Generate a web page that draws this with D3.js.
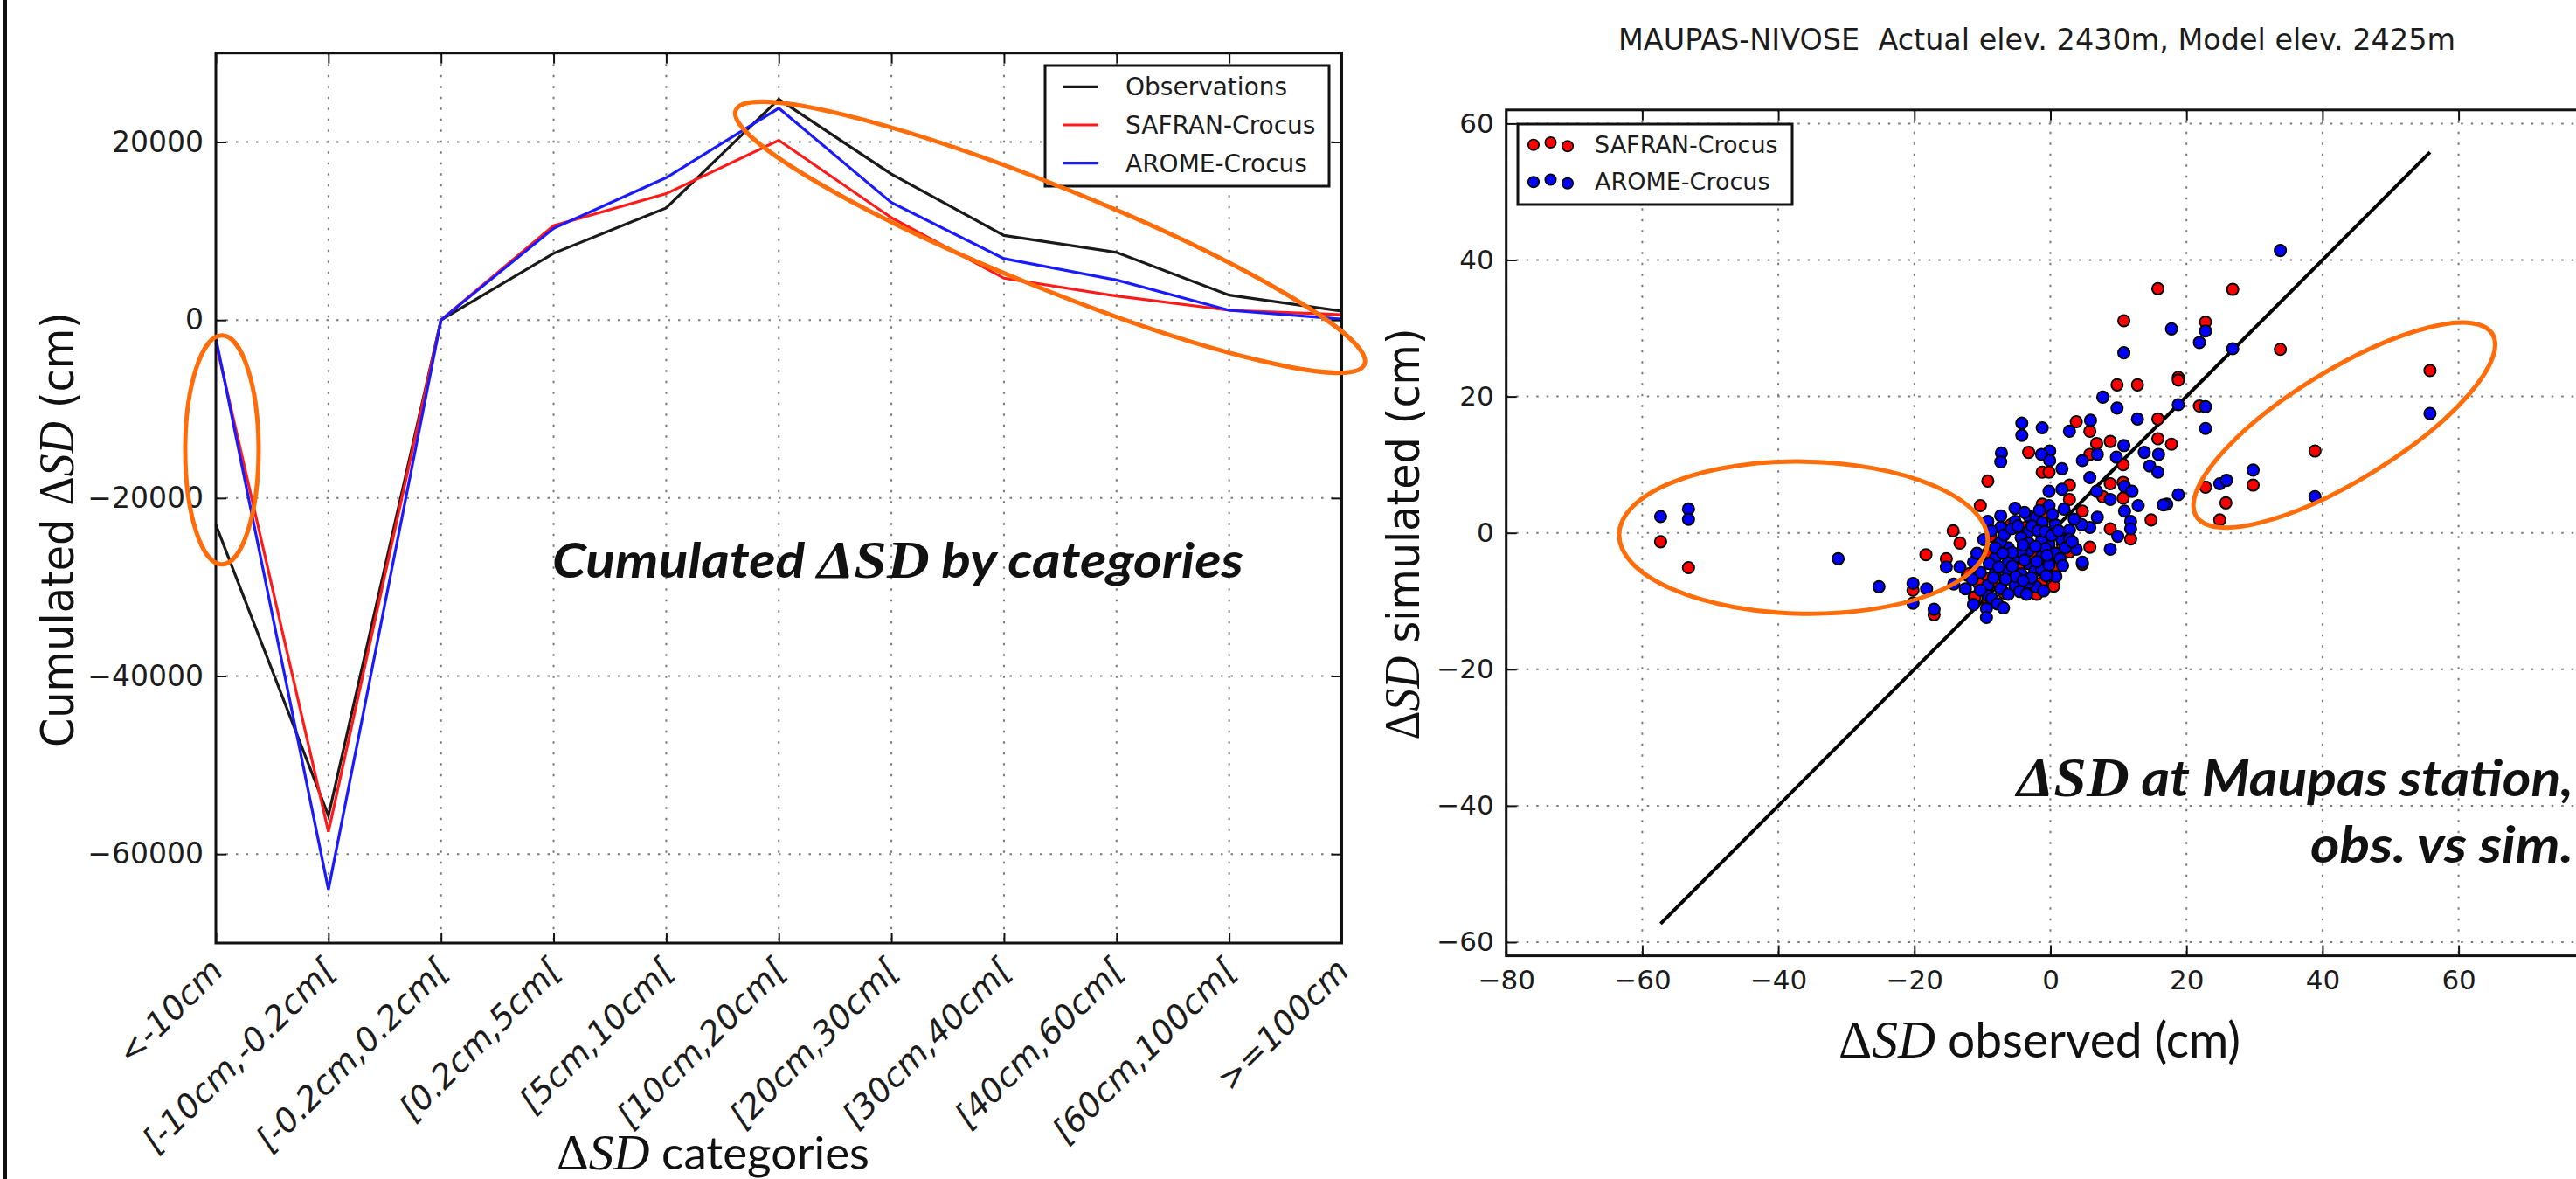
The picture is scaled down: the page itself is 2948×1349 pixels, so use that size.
<!DOCTYPE html>
<html>
<head>
<meta charset="utf-8">
<script src="https://cdnjs.cloudflare.com/ajax/libs/d3/7.8.5/d3.min.js"></script>
<style>
  html, body { margin: 0; padding: 0; background: #fff; overflow: hidden; }
  svg { display: block; }
</style>
</head>
<body>
<svg id="chart" width="2948" height="1349"></svg>
<script>
// ---- data: cumulated delta SD by category ----
const categories = ['<-10cm', '[-10cm,-0.2cm[', '[-0.2cm,0.2cm[', '[0.2cm,5cm[', '[5cm,10cm[',
  '[10cm,20cm[', '[20cm,30cm[', '[30cm,40cm[', '[40cm,60cm[', '[60cm,100cm[', '>=100cm'];
const observations = [-23000, -55700, 0, 7500, 12600, 24800, 16400, 9500, 7600, 2800, 1000];
const safranCum = [-2500, -57500, 0, 10600, 14200, 20200, 11500, 4700, 2700, 1100, 600];
const aromeCum = [-2000, -64000, 0, 10300, 16000, 23800, 13200, 6900, 4500, 1100, 100];
const cumTicks = [-60000, -40000, -20000, 0, 20000];

// ---- data: delta SD at Maupas, observed vs simulated ----
const safranObs = [-57.3, -53.2, -10.3, -14.3, -13.3, -18.3, -15.3, -20.2, -17.1, -11.2, -12.2,
  26.8, 22.8, 33.8, 18.8, 18.8, 21.9, 17.8, 55.8, 38.9, 22.8, 29.8, 25.8, 24.9,
  15.8, 10.8, 9.8, 12.8, 15.8, 3.8, 5.8, 6.8, 8.8, 15.8, -3.2, 5.8,
  -9.2, -1.2, -0.2, 2.8, 10.7, 8.8, 10.7, 7.7, 10.7, 2.8, -1.2, 4.7, 8.8, 11.8, 5.8, 2.8, 14.8,
  0.9, -11.1, -9.2, -9.2, -8.1, -3.4, -1.3, 0.9, -9.1, -0.4, -5.1, -12.0, 4.7, -6.4, -0.4,
  -7.8, -4.6, -2.6, -0.9, -6.8, -10.5, 1.8, -3.7, -8.8, 0.5, -5.8, -2.0];
const safranSim = [-1.3, -5.1, 4.0, 0.3, -1.5, -3.2, -3.8, -8.4, -12.0, -9.4, -6.2,
  35.7, 30.9, 26.9, 22.8, 22.4, 18.6, 13.0, 23.8, 12.0, 6.7, 7.0, 4.4, 1.9,
  35.8, 31.1, 21.7, 21.7, 16.7, 16.3, 14.9, 13.1, 13.4, 13.8, 11.8, 11.5,
  7.6, 8.9, 8.9, 7.0, 10.0, 7.2, 7.4, 5.3, 5.1, 4.9, 4.2, 3.2, 0.6, -0.9, -2.1, -2.8, 1.9,
  -3.5, -9.4, -9.8, -6.7, -7.0, -7.7, -7.3, -5.2, -2.8, 2.5, -8.2, -6.0, -4.6, -3.0, -1.1,
  -1.8, -5.2, -3.2, -4.8, -8.8, -7.5, -1.8, 0.8, -0.5, -7.8, 1.2, -9.0];
const aromeObs = [-57.3, -53.2, -53.2, -31.2, -25.2, -20.2, -20.2, -18.2, -17.1, -15.3, -13.3, -14.2, -11.3, -9.2, -7.3, -11.3, -9.4, -9.4,
  17.8, 22.8, 21.9, 26.8, 18.8, 22.8, 22.8, 55.8, 29.8, 24.9, 25.9, 38.9, 18.8, 17.1,
  33.8, 10.8, 7.7, 9.8, 12.8, -4.2, -4.2, -1.2, 2.8, 5.9, 10.8, -7.2, -0.1, -1.3, 6.9, 13.8, 15.9,
  -7.3, -0.1, 1.7, 4.7, 9.7, 14.6, 15.8, 5.8, 6.8, 8.8, 10.9, 12.0, 10.9, 12.9, 16.6, 11.8, 11.8, 9.9, 6.9, 5.8, 8.8, 4.7, 4.6, 1.7, -0.2, -0.2, -0.2, -5.2, 3.8, 2.8, 0.8,
  -5.2, -3.2, -2.1, -1.2, -3.2, -4.3, -6.2, -7.3, -3.2, -1.3, 1.7, 0.7, -1.3, -3.2, -5.1, -6.2, -8.1, -10.3, -8.1, -6.2, -4.3, -2.3, -1.3, -5.2, -7.3, -9.2, -9.2, -2.1, -0.2, 2.8, 0.7, -3.2, -4.3, -8.1, -7.3, -10.3, -5.1, -3.2,
  -9.8, -8.7, -6.8, -5.7, -4.8, -2.7, -1.8, -0.8, 0.2, 1.2, -0.7, -2.2, -4.0, -5.6, -7.0, -9.0, -7.6, -5.6, -3.8, -2.0, -0.5, 1.4, -0.6, -2.8, -4.0, -6.6, -8.4, -6.2, -4.5, -8.6, -7.8, -3.5, -1.0, 1.8, 2.2, 3.2, -11.5, -10.8, -12.5, -6.9, 0.3, -1.6, -3.8, 3.5, 2.0];
const aromeSim = [2.4, 3.5, 2.0, -3.8, -7.9, -7.4, -10.3, -8.2, -11.2, -5.0, -5.0, -7.5, -4.3, 1.7, 0.8, -10.5, -11.1, -12.4,
  29.9, 29.6, 27.9, 27.0, 18.8, 18.5, 15.3, 17.5, 9.2, 7.2, 7.7, 5.3, 5.6, 4.2,
  41.4, 26.4, 19.9, 18.3, 16.7, 16.1, 14.3, 15.4, 14.9, 16.5, 12.8, 11.7, 12.0, 11.5, 11.5, 11.8, 11.5,
  10.4, 10.6, 9.4, 10.6, 11.1, 9.8, 8.9, 8.1, 6.1, 4.9, 6.8, 6.1, 3.2, 4.0, 4.1, 1.7, 0.6, -0.5, 2.3, 0.8, -2.4, -4.3, 1.2, 6.4, 6.1, 4.0, -1.7, 3.6, -2.4, 0.4, -6.4,
  1.7, 2.5, 2.3, 1.5, 0.2, -0.7, -2.2, -1.3, -1.5, -1.1, -1.1, -3.0, -3.5, -4.5, -3.5, -4.3, -3.7, -5.8, -5.8, -5.6, -6.0, -5.6, -5.4, -7.7, -8.2, -7.7, -9.2, -7.9, -4.7, -0.9, 1.2, -2.6, -2.8, -2.2, 2.5, -8.4, -6.4, -7.3,
  -1.0, 0.3, -0.3, 0.6, 1.0, 1.0, 0.3, 0.2, -0.4, 0.3, -2.3, -2.0, -1.8, -2.9, -3.0, -4.5, -5.0, -4.9, -4.0, -4.2, -3.3, -3.8, -6.3, -6.6, -7.0, -6.8, -6.6, -9.0, -8.6, -9.6, -10.4, -9.0, -8.5, -4.8, -2.2, -1.3, -6.8, -3.0, -8.2, -11.0, 2.7, 3.3, 3.0, 2.0, 3.5];
const obsTicks = [-80, -60, -40, -20, 0, 20, 40, 60, 80];
const simTicks = [-60, -40, -20, 0, 20, 40, 60];

// hand-drawn highlight ellipses (centre in data units, radii in px)
const leftHighlights = [
  { cx: 0.054, cy: -14600, rx: 42, ry: 131, angle: 0 },
  { cx: 7.41, cy: 9300, rx: 388, ry: 58, angle: 22 }
];
const rightHighlights = [
  { cx: -36.3, cy: -0.7, rx: 211, ry: 87, angle: 1 },
  { cx: 43.2, cy: 15.8, rx: 199, ry: 63, angle: -31.6 }
];

const SANS = '"DejaVu Sans", sans-serif';
const SERIF = '"Liberation Serif", "DejaVu Serif", serif';
const CAL = 'Lato, "Open Sans", sans-serif';
const ORANGE = '#ff6c0a';

const svg = d3.select('#chart');

svg.append('line')
  .attr('x1', 6).attr('x2', 6).attr('y1', 0).attr('y2', 1349)
  .attr('stroke', '#111').attr('stroke-width', 4);

const xCat = d3.scaleLinear().domain([0, categories.length - 1]).range([247, 1535.5]);
const yCum = d3.scaleLinear().domain([-70000, 30000]).range([1079, 60.7]);
const xObs = d3.scaleLinear().domain([-80, 80]).range([1723.7, 2969.3]);
const ySim = d3.scaleLinear().domain([-62, 62]).range([1093.6, 125.8]);

function drawGrid(xs, ys, x, y) {
  const g = svg.append('g')
    .attr('stroke', '#7a7a7a').attr('stroke-width', 2);
  g.selectAll('.vg').data(xs).enter().append('line')
    .attr('x1', d => x(d)).attr('x2', d => x(d))
    .attr('y1', y.range()[1]).attr('y2', y.range()[0])
    .attr('stroke-dasharray', '2.5,10');
  g.selectAll('.hg').data(ys).enter().append('line')
    .attr('y1', d => y(d)).attr('y2', d => y(d))
    .attr('x1', x.range()[0]).attr('x2', x.range()[1])
    .attr('stroke-dasharray', '2.5,9');
}

function drawAxes(x, y, xTicks, yTicks, xFormat, yFormat, fontSize) {
  const [x0, x1] = x.range();
  const [y0, y1] = y.range();
  const bottom = svg.append('g').attr('transform', `translate(0,${y0})`)
    .call(d3.axisBottom(x).tickValues(xTicks).tickSize(-12).tickPadding(16).tickFormat(xFormat));
  svg.append('g').attr('transform', `translate(0,${y1})`)
    .call(d3.axisTop(x).tickValues(xTicks).tickSize(-12).tickFormat(''));
  const left = svg.append('g').attr('transform', `translate(${x0},0)`)
    .call(d3.axisLeft(y).tickValues(yTicks).tickSize(-12).tickPadding(14).tickFormat(yFormat));
  svg.append('g').attr('transform', `translate(${x1},0)`)
    .call(d3.axisRight(y).tickValues(yTicks).tickSize(-12).tickFormat(''));
  svg.selectAll('.domain').remove();
  svg.selectAll('.tick line').attr('stroke', '#111').attr('stroke-width', 2);
  [bottom, left].forEach(a => a.attr('font-family', SANS).attr('font-size', fontSize)
    .selectAll('text').attr('fill', '#1c1c1c'));
  svg.append('rect')
    .attr('x', x0).attr('y', y1).attr('width', x1 - x0).attr('height', y0 - y1)
    .attr('fill', 'none').attr('stroke', '#111').attr('stroke-width', 3);
  return bottom;
}

const minus = d => d3.format('d')(d).replace('-', '\u2212');

// ---------------- left panel ----------------
drawGrid(d3.range(categories.length), cumTicks, xCat, yCum);

const series = [
  { name: 'Observations', values: observations, color: '#1a1a1a' },
  { name: 'SAFRAN-Crocus', values: safranCum, color: '#ff1a1a' },
  { name: 'AROME-Crocus', values: aromeCum, color: '#1a1aff' }
];
const line = d3.line().x((d, i) => xCat(i)).y(d => yCum(d));
svg.append('g').selectAll('path').data(series).enter().append('path')
  .attr('d', d => line(d.values))
  .attr('fill', 'none')
  .attr('stroke', d => d.color)
  .attr('stroke-width', 3.2)
  .attr('stroke-linejoin', 'miter');

const catAxis = drawAxes(xCat, yCum, d3.range(categories.length), cumTicks, i => categories[i], minus, 33);
catAxis.selectAll('.tick text')
  .attr('x', 10).attr('y', 34).attr('dy', null)
  .attr('text-anchor', 'end')
  .attr('font-style', 'italic')
  .attr('font-size', 38)
  .attr('transform', 'rotate(-45, 10, 34)');

// legend
const leg1 = svg.append('g').attr('font-family', SANS).attr('font-size', 28).attr('fill', '#1c1c1c');
leg1.append('rect').attr('x', 1196).attr('y', 75).attr('width', 325).attr('height', 138)
  .attr('fill', '#fff').attr('stroke', '#111').attr('stroke-width', 3);
series.forEach((s, i) => {
  const cy = 99.3 + i * 43.7;
  leg1.append('line').attr('x1', 1216).attr('x2', 1257).attr('y1', cy).attr('y2', cy)
    .attr('stroke', s.color).attr('stroke-width', 3.2);
  leg1.append('text').attr('x', 1288).attr('y', cy).attr('dy', '0.36em').text(s.name);
});

// ---------------- right panel ----------------
drawGrid(obsTicks, simTicks, xObs, ySim);

const obsRange = d3.extent(safranObs.concat(aromeObs));
svg.append('line')
  .attr('x1', xObs(obsRange[0])).attr('y1', ySim(obsRange[0]))
  .attr('x2', xObs(obsRange[1])).attr('y2', ySim(obsRange[1]))
  .attr('stroke', '#000').attr('stroke-width', 4);

const scatter = [
  { name: 'SAFRAN-Crocus', xs: safranObs, ys: safranSim, color: '#ff0000' },
  { name: 'AROME-Crocus', xs: aromeObs, ys: aromeSim, color: '#0000ff' }
];
scatter.forEach(s => {
  svg.append('g').selectAll('circle').data(s.xs).enter().append('circle')
    .attr('cx', d => xObs(d))
    .attr('cy', (d, i) => ySim(s.ys[i]))
    .attr('r', 6.6)
    .attr('fill', s.color)
    .attr('stroke', '#000').attr('stroke-width', 1.9);
});

drawAxes(xObs, ySim, obsTicks, simTicks, minus, minus, 31);

const leg2 = svg.append('g').attr('font-family', SANS).attr('font-size', 27).attr('fill', '#1c1c1c');
leg2.append('rect').attr('x', 1737).attr('y', 142).attr('width', 314).attr('height', 92)
  .attr('fill', '#fff').attr('stroke', '#111').attr('stroke-width', 3);
const legOffsets = [0.7, -2, 2.2];
scatter.forEach((s, i) => {
  const cy = 165 + i * 42.5;
  leg2.selectAll(null).data(legOffsets).enter().append('circle')
    .attr('cx', (d, j) => 1755 + j * 19.5).attr('cy', d => cy + d).attr('r', 6.2)
    .attr('fill', s.color).attr('stroke', '#000').attr('stroke-width', 1.7);
  leg2.append('text').attr('x', 1825).attr('y', cy).attr('dy', '0.36em').text(s.name);
});

svg.append('text')
  .attr('x', 1852).attr('y', 57)
  .attr('font-family', SANS).attr('font-size', 33).attr('fill', '#1c1c1c')
  .attr('textLength', 958).attr('lengthAdjust', 'spacingAndGlyphs')
  .text('MAUPAS-NIVOSE  Actual elev. 2430m, Model elev. 2425m')
  .style('white-space', 'pre');

// ---------------- highlight ellipses ----------------
function drawHighlights(list, x, y) {
  svg.append('g').selectAll('ellipse').data(list).enter().append('ellipse')
    .attr('cx', 0).attr('cy', 0)
    .attr('rx', d => d.rx).attr('ry', d => d.ry)
    .attr('transform', d => `translate(${x(d.cx)},${y(d.cy)}) rotate(${d.angle})`)
    .attr('fill', 'none').attr('stroke', ORANGE).attr('stroke-width', 5);
}
drawHighlights(leftHighlights, xCat, yCum);
drawHighlights(rightHighlights, xObs, ySim);

// ---------------- labels ----------------
function richText(parts, opts) {
  const t = svg.append('text')
    .attr('x', opts.x).attr('y', opts.y)
    .attr('font-family', opts.family).attr('font-size', opts.size)
    .attr('font-weight', opts.weight || 'normal')
    .attr('font-style', opts.style || 'normal')
    .attr('fill', '#111');
  if (opts.length) t.attr('textLength', opts.length).attr('lengthAdjust', 'spacingAndGlyphs');
  if (opts.rotate) t.attr('transform', `rotate(${opts.rotate}, ${opts.x}, ${opts.y})`);
  if (opts.anchor) t.attr('text-anchor', opts.anchor);
  t.style('white-space', 'pre');
  parts.forEach(p => {
    const ts = t.append('tspan').text(p.t);
    if (p.serif) ts.attr('font-family', SERIF).attr('font-size', opts.size * 1.08);
    if (p.italic) ts.attr('font-style', 'italic');
  });
  return t;
}
const dsd = [{ t: '\u0394', serif: true }, { t: 'SD', serif: true, italic: true }];

richText([{ t: 'Cumulated ' }, ...dsd, { t: ' (cm)' }],
  { x: 84, y: 606, family: SANS, size: 52, rotate: -90, anchor: 'middle', length: 498 });
richText([...dsd, { t: ' simulated (cm)' }],
  { x: 1624, y: 611, family: SANS, size: 52, rotate: -90, anchor: 'middle', length: 471 });

richText([...dsd, { t: ' categories' }],
  { x: 637, y: 1338, family: CAL, size: 52, length: 358 });
richText([...dsd, { t: ' observed (cm)' }],
  { x: 2104, y: 1210, family: CAL, size: 56, length: 460 });

richText([{ t: 'Cumulated ' }, ...dsd, { t: ' by categories' }],
  { x: 632, y: 661, family: CAL, size: 56, weight: 'bold', style: 'italic', length: 791 });
richText([...dsd, { t: ' at Maupas station,' }],
  { x: 2308, y: 911, family: CAL, size: 58, weight: 'bold', style: 'italic', length: 637 });
richText([{ t: 'obs. vs sim.' }],
  { x: 2644, y: 987, family: CAL, size: 58, weight: 'bold', style: 'italic', length: 301 });
</script>
</body>
</html>
